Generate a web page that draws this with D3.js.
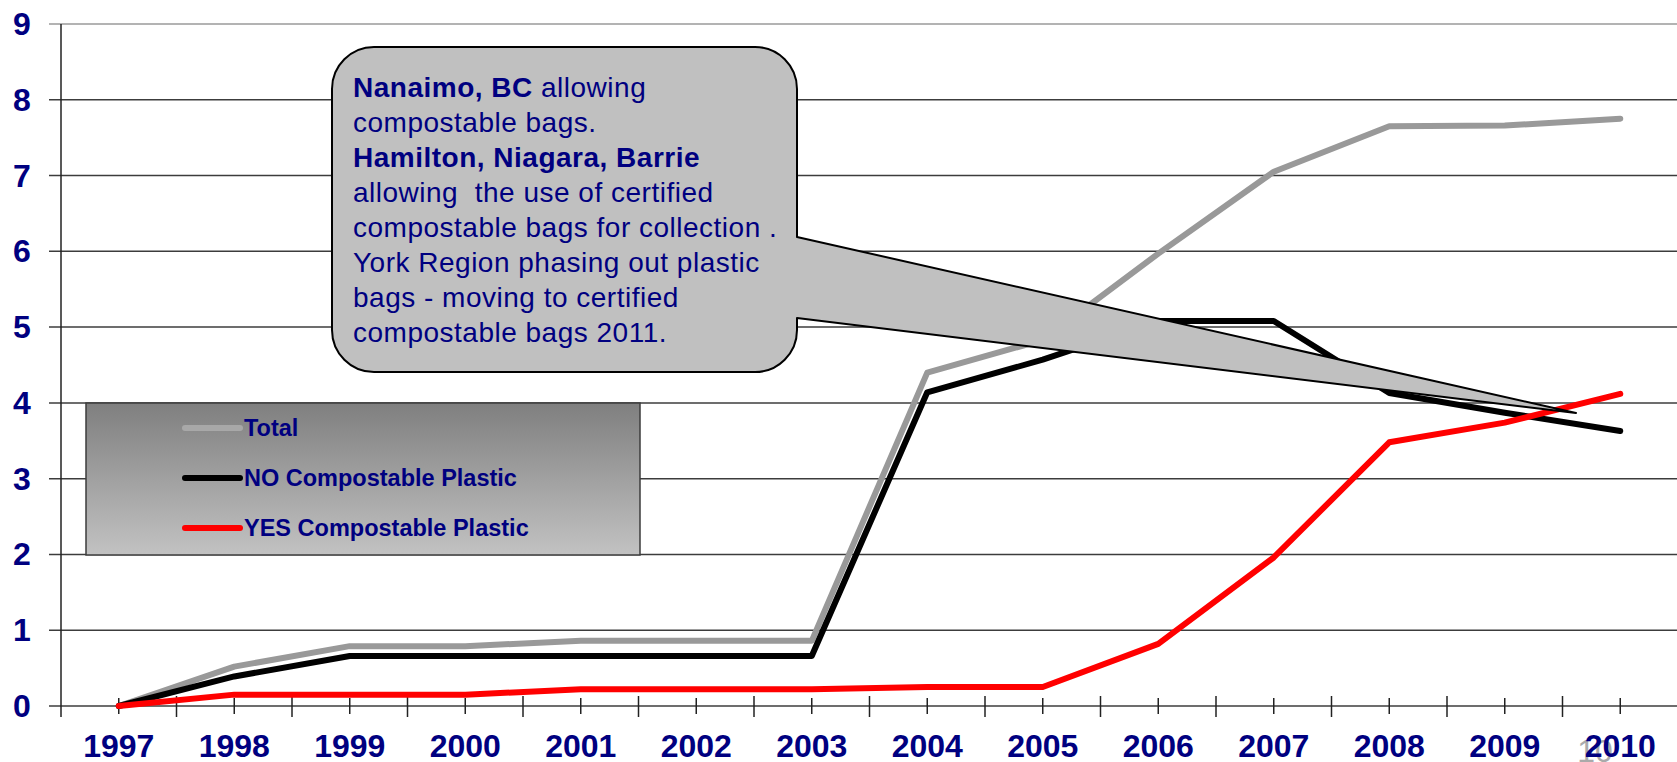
<!DOCTYPE html>
<html>
<head>
<meta charset="utf-8">
<script src="https://cdn.jsdelivr.net/npm/d3@7"></script>
<style>
  body { margin: 0; background: #fff; }
  text { font-family: "Liberation Sans", Arial, sans-serif; }
</style>
</head>
<body>
<div id="chart"></div>
<script>
// data
var years = ["1997","1998","1999","2000","2001","2002","2003","2004","2005","2006","2007","2008","2009","2010"];
var totalVals = [0, 0.52, 0.79, 0.79, 0.86, 0.86, 0.86, 4.40, 4.83, 5.97, 7.05, 7.65, 7.66, 7.75];
var noCompVals = [0, 0.39, 0.66, 0.66, 0.66, 0.66, 0.66, 4.14, 4.57, 5.08, 5.08, 4.13, 3.87, 3.63];
var yesCompVals = [0, 0.15, 0.15, 0.15, 0.22, 0.22, 0.22, 0.25, 0.25, 0.82, 1.96, 3.48, 3.74, 4.12];
var yTicks = [0, 1, 2, 3, 4, 5, 6, 7, 8, 9];
var seriesNames = ["Total", "NO Compostable Plastic", "YES Compostable Plastic"];
var seriesColors = ["#999999", "#000000", "#ff0000"];
var calloutLines = [
  [["Nanaimo, BC", true], [" allowing", false]],
  [["compostable bags.", false]],
  [["Hamilton, Niagara, Barrie", true]],
  [["allowing  the use of certified", false]],
  [["compostable bags for collection .", false]],
  [["York Region phasing out plastic", false]],
  [["bags - moving to certified", false]],
  [["compostable bags 2011.", false]]
];

var width = 1677, height = 762;
var navy = "#000080";

var svg = d3.select("#chart").append("svg")
  .attr("width", width)
  .attr("height", height);

var x = d3.scaleBand().domain(years).range([61, 61 + 14 * 115.5]);
var y = d3.scaleLinear().domain([0, 9]).range([706, 24]);
var cx = function(yr) { return x(yr) + x.bandwidth() / 2; };

// gridlines + y ticks
svg.append("g")
  .selectAll("line")
  .data(yTicks)
  .enter()
  .append("line")
  .attr("x1", 49)
  .attr("x2", width)
  .attr("y1", function(d) { return y(d); })
  .attr("y2", function(d) { return y(d); })
  .style("stroke", function(d) { return d == 9 ? "#9a9a9a" : "#3c3c3c"; })
  .style("stroke-width", 1.5);

// y axis line
svg.append("line")
  .attr("x1", 61).attr("x2", 61)
  .attr("y1", y(9)).attr("y2", 717)
  .style("stroke", "#222").style("stroke-width", 1.5);

// y labels
svg.append("g")
  .selectAll("text")
  .data(yTicks)
  .enter()
  .append("text")
  .attr("x", 22)
  .attr("y", function(d) { return y(d) + 11; })
  .attr("text-anchor", "middle")
  .style("font-size", "32px")
  .style("font-weight", "bold")
  .style("fill", navy)
  .text(function(d) { return d; });

// x ticks: long ones at category edges, short ones at centres
var edges = years.map(function(yr) { return x(yr); }).concat([x(years[years.length - 1]) + x.bandwidth()]);
svg.append("g")
  .selectAll("line.edge")
  .data(edges.slice(1))
  .enter()
  .append("line")
  .attr("x1", function(d) { return d; })
  .attr("x2", function(d) { return d; })
  .attr("y1", 696).attr("y2", 717)
  .style("stroke", "#222").style("stroke-width", 1.5);
svg.append("g")
  .selectAll("line")
  .data(years)
  .enter()
  .append("line")
  .attr("x1", cx).attr("x2", cx)
  .attr("y1", 698).attr("y2", 714)
  .style("stroke", "#222").style("stroke-width", 1.5);

// slide number sitting behind the last label
svg.append("text")
  .attr("x", 1595).attr("y", 762)
  .attr("text-anchor", "middle")
  .style("font-size", "32px")
  .style("fill", "#aaaaaa")
  .text("10");

// x labels
svg.append("g")
  .selectAll("text")
  .data(years)
  .enter()
  .append("text")
  .attr("x", cx)
  .attr("y", 757)
  .attr("text-anchor", "middle")
  .style("font-size", "32px")
  .style("font-weight", "bold")
  .style("fill", navy)
  .text(function(d) { return d; });

// legend box with grey gradient
var defs = svg.append("defs");
var grad = defs.append("linearGradient")
  .attr("id", "legendGrad")
  .attr("x1", "0%").attr("y1", "0%")
  .attr("x2", "0%").attr("y2", "100%");
grad.append("stop").attr("offset", "0%").attr("stop-color", "#7f7f7f");
grad.append("stop").attr("offset", "100%").attr("stop-color", "#c2c2c2");

svg.append("rect")
  .attr("x", 86).attr("y", 403)
  .attr("width", 554).attr("height", 152)
  .style("fill", "url(#legendGrad)")
  .style("stroke", "#3c3c3c")
  .style("stroke-width", 1.5);

var legendColors = ["#a8a8a8", "#000000", "#ff0000"];
var legendRows = svg.append("g")
  .selectAll("g")
  .data(seriesNames)
  .enter()
  .append("g")
  .attr("transform", function(d, i) { return "translate(0," + (428 + i * 50) + ")"; });
legendRows.append("line")
  .attr("x1", 185).attr("x2", 240)
  .attr("y1", 0).attr("y2", 0)
  .style("stroke", function(d, i) { return legendColors[i]; })
  .style("stroke-width", 6)
  .style("stroke-linecap", "round");
legendRows.append("text")
  .attr("x", 244).attr("y", 8)
  .style("font-size", "23.5px")
  .style("font-weight", "bold")
  .style("fill", navy)
  .text(function(d) { return d; });

// the three lines
var allSeries = [totalVals, noCompVals, yesCompVals];
var line = d3.line()
  .x(function(d, i) { return cx(years[i]); })
  .y(function(d) { return y(d); });

svg.append("g")
  .selectAll("path")
  .data(allSeries)
  .enter()
  .append("path")
  .attr("d", line)
  .style("fill", "none")
  .style("stroke", function(d, i) { return seriesColors[i]; })
  .style("stroke-width", 6)
  .style("stroke-linejoin", "round")
  .style("stroke-linecap", "round");

// callout box with pointer
var bx0 = 332, by0 = 47, bx1 = 797, by1 = 372, r = 42;
var tipX = 1576, tipY = 413, wTop = 237, wBot = 318;
var p = d3.path();
p.moveTo(bx0 + r, by0);
p.lineTo(bx1 - r, by0);
p.arcTo(bx1, by0, bx1, by0 + r, r);
p.lineTo(bx1, wTop);
p.lineTo(tipX, tipY);
p.lineTo(bx1, wBot);
p.lineTo(bx1, by1 - r);
p.arcTo(bx1, by1, bx1 - r, by1, r);
p.lineTo(bx0 + r, by1);
p.arcTo(bx0, by1, bx0, by1 - r, r);
p.lineTo(bx0, by0 + r);
p.arcTo(bx0, by0, bx0 + r, by0, r);
p.closePath();

svg.append("path")
  .attr("d", p.toString())
  .style("fill", "#c0c0c0")
  .style("stroke", "#000")
  .style("stroke-width", 2)
  .style("stroke-linejoin", "round");

var ct = svg.append("g")
  .selectAll("text")
  .data(calloutLines)
  .enter()
  .append("text")
  .attr("x", 353)
  .attr("y", function(d, i) { return 97 + i * 35; })
  .attr("xml:space", "preserve")
  .style("white-space", "pre")
  .style("font-size", "28px")
  .style("letter-spacing", "0.5px")
  .style("fill", navy);

ct.selectAll("tspan")
  .data(function(d) { return d; })
  .enter()
  .append("tspan")
  .style("font-weight", function(d) { return d[1] ? "bold" : "normal"; })
  .text(function(d) { return d[0]; });
</script>
</body>
</html>
